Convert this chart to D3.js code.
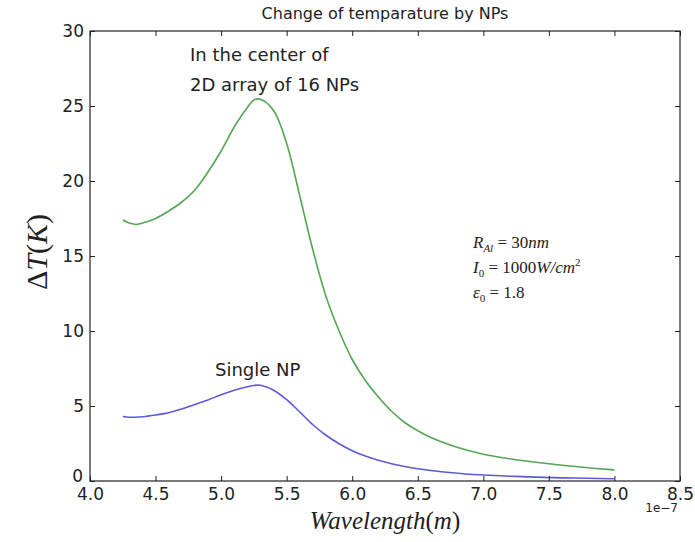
<!DOCTYPE html>
<html><head><meta charset="utf-8">
<script src="https://cdn.jsdelivr.net/npm/d3@7"></script>
<style>body{margin:0;background:#fff}svg{display:block}</style>
</head><body>
<svg id="c" width="695" height="542"></svg>
<script>
// wavelength in units of 1e-7 m
const wavelength = [4.25,4.3,4.35,4.4,4.5,4.6,4.7,4.8,4.9,5.0,5.1,5.2,5.25,5.3,5.4,5.5,5.6,5.7,5.8,5.9,6.0,6.1,6.2,6.3,6.4,6.5,6.6,6.7,6.8,6.9,7.0,7.2,7.4,7.6,7.8,8.0];
const arrayNPs = [17.4,17.2,17.1,17.2,17.5,18.0,18.6,19.4,20.6,22.0,23.6,24.9,25.4,25.45,24.7,22.5,19.0,15.4,12.3,10.0,8.1,6.7,5.6,4.65,3.9,3.35,2.9,2.55,2.25,2.0,1.78,1.48,1.25,1.05,0.88,0.74];
const singleNP = [4.3,4.25,4.25,4.28,4.4,4.55,4.8,5.1,5.4,5.75,6.05,6.28,6.37,6.38,6.05,5.42,4.6,3.75,3.05,2.48,2.02,1.66,1.38,1.15,0.97,0.82,0.7,0.6,0.52,0.45,0.4,0.32,0.26,0.21,0.18,0.15];
const xTicks = [4.0,4.5,5.0,5.5,6.0,6.5,7.0,7.5,8.0,8.5];
const yTicks = [0,5,10,15,20,25,30];
const titleText = "Change of temparature by NPs";

const svg = d3.select("#c");
const L = 90, R = 680, T = 31, B = 481;
const x = d3.scaleLinear().domain([4.0, 8.5]).range([L, R]);
const y = d3.scaleLinear().domain([0, 30]).range([B, T]);
const sans = "'DejaVu Sans', sans-serif";
const serif = "'Liberation Serif', 'DejaVu Serif', serif";

// lines
const line = d3.line().x((d,i)=>x(wavelength[i])).y(d=>y(d)).curve(d3.curveCatmullRom.alpha(0.5));
svg.append("path").attr("d", line(arrayNPs)).attr("fill","none").attr("stroke","#55a555").attr("stroke-width",1.6);
svg.append("path").attr("d", line(singleNP)).attr("fill","none").attr("stroke","#5b5bd9").attr("stroke-width",1.6);

// axes
const fmt = d3.format(".1f");
const ax = svg.append("g").attr("transform",`translate(0,${B})`)
  .call(d3.axisBottom(x).tickValues(xTicks).tickFormat(fmt).tickSizeInner(-5).tickSizeOuter(0).tickPadding(7));
const axT = svg.append("g").attr("transform",`translate(0,${T})`)
  .call(d3.axisTop(x).tickValues(xTicks).tickFormat("").tickSizeInner(-5).tickSizeOuter(0));
const ay = svg.append("g").attr("transform",`translate(${L},0)`)
  .call(d3.axisLeft(y).tickValues(yTicks).tickFormat(d3.format("d")).tickSizeInner(-5).tickSizeOuter(0).tickPadding(6));
const ayR = svg.append("g").attr("transform",`translate(${R},0)`)
  .call(d3.axisRight(y).tickValues(yTicks).tickFormat("").tickSizeInner(-5).tickSizeOuter(0));
[ax,axT,ay,ayR].forEach(g=>{
  g.select(".domain").remove();
  g.selectAll("line").attr("stroke","#222");
  g.selectAll("text").attr("font-family",sans).attr("font-size",17).attr("fill","#222");
});
// nudge the "0" label so it does not collide with "4.0"
ay.selectAll(".tick").filter(d=>d===0).select("text").attr("dy","0.05em").attr("x",-7);
svg.append("rect").attr("x",L).attr("y",T).attr("width",R-L).attr("height",B-T)
  .attr("fill","none").attr("stroke","#222").attr("stroke-width",1.2);

// offset text
svg.append("text").attr("x",678).attr("y",512).attr("text-anchor","end")
  .attr("font-family",sans).attr("font-size",12).attr("fill","#222").text("1e\u22127");

// title
svg.append("text").attr("x",(L+R)/2).attr("y",19).attr("text-anchor","middle")
  .attr("font-family",sans).attr("font-size",16).attr("fill","#222").text(titleText);

// x label
const xl = svg.append("text").attr("x",(L+R)/2).attr("y",529).attr("text-anchor","middle")
  .attr("font-family",serif).attr("font-size",25).attr("fill","#222");
xl.append("tspan").attr("font-style","italic").text("Wavelength");
xl.append("tspan").text("(");
xl.append("tspan").attr("font-style","italic").text("m");
xl.append("tspan").text(")");

// y label
const yl = svg.append("text").attr("transform","translate(47,252) rotate(-90)").attr("text-anchor","middle")
  .attr("font-family",serif).attr("font-size",30).attr("fill","#222");
yl.append("tspan").text("\u0394");
yl.append("tspan").attr("font-style","italic").text("T");
yl.append("tspan").text("(");
yl.append("tspan").attr("font-style","italic").text("K");
yl.append("tspan").text(")");

// annotations
const ann = (tx,ty,s)=>svg.append("text").attr("x",tx).attr("y",ty).attr("font-family",sans).attr("font-size",18).attr("fill","#222").text(s);
ann(190,61,"In the center of");
ann(190,91,"2D array of 16 NPs");
ann(215,376,"Single NP");

// parameter box (math style)
function mathLine(tx,ty,parts){
  const t = svg.append("text").attr("x",tx).attr("y",ty).attr("font-family",serif).attr("font-size",17).attr("fill","#222");
  parts.forEach(p=>{
    const s = t.append("tspan").text(p.t);
    if(p.i) s.attr("font-style","italic");
    if(p.sub){ s.attr("font-size",11).attr("dy",4); }
    if(p.sup){ s.attr("font-size",11).attr("dy",-7); }
    if(p.back) s.attr("dy",p.back);
  });
}
mathLine(473,248,[{t:"R",i:1},{t:"Al",i:1,sub:1},{t:" = 30",back:-4},{t:"nm",i:1}]);
mathLine(473,273,[{t:"I",i:1},{t:"0",sub:1},{t:" = 1000",back:-4},{t:"W/cm",i:1},{t:"2",sup:1}]);
mathLine(473,298,[{t:"\u03b5",i:1},{t:"0",sub:1},{t:" = 1.8",back:-4}]);
</script>
</body></html>
